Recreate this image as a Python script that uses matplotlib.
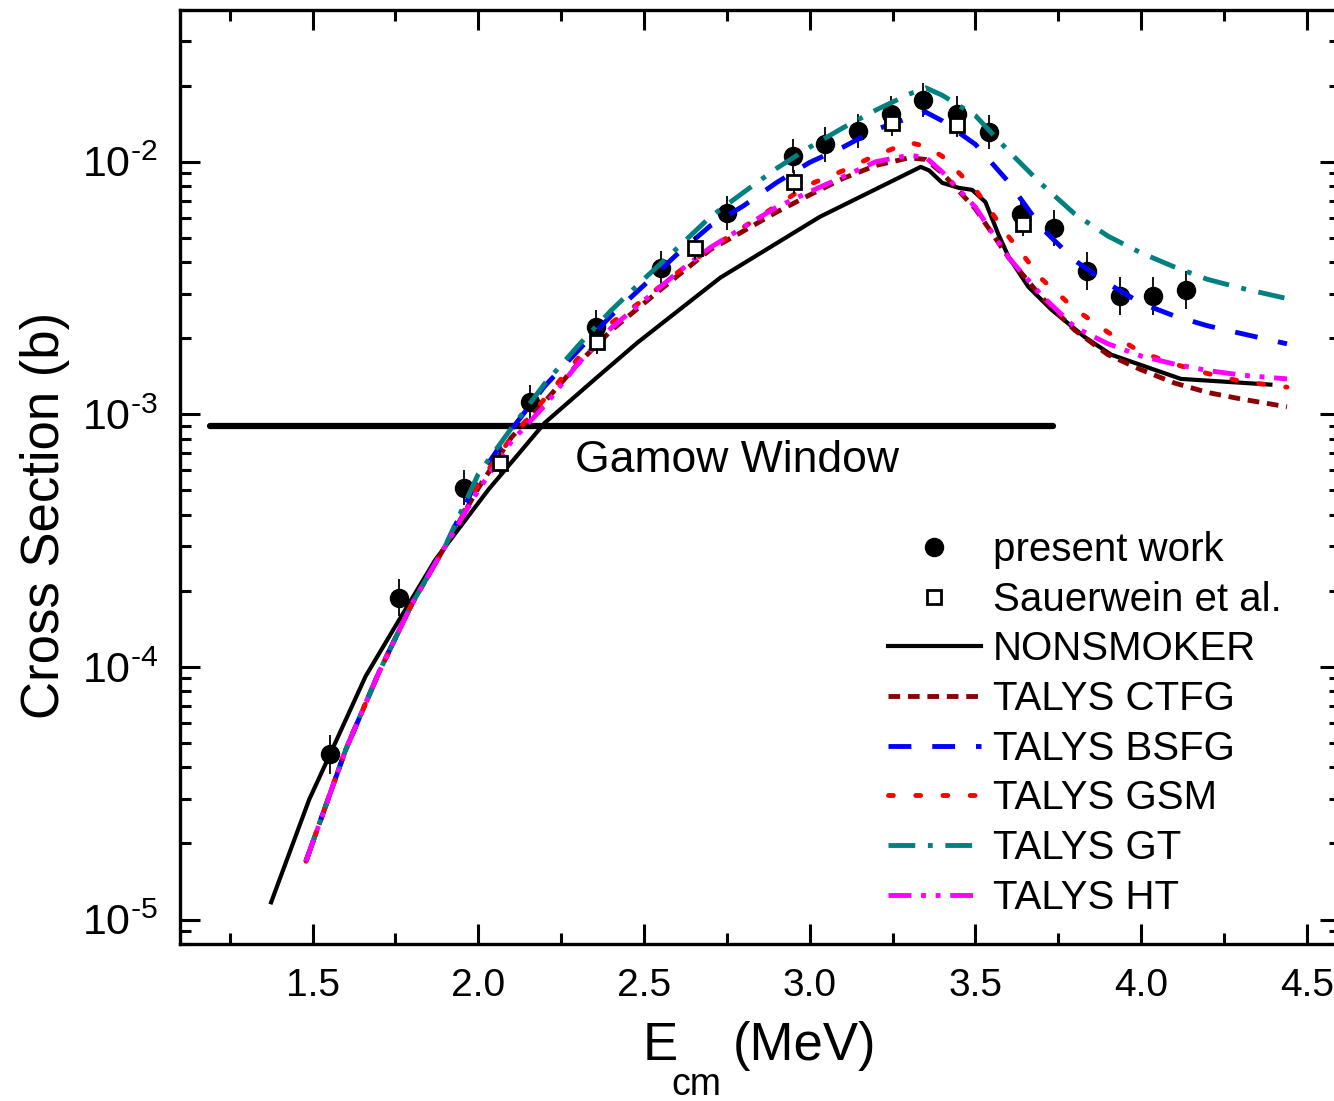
import matplotlib
matplotlib.use('Agg')
import matplotlib.pyplot as plt
from matplotlib.ticker import FixedLocator, LogLocator, NullFormatter

plt.rcParams['font.family'] = ['Liberation Sans', 'DejaVu Sans']
plt.rcParams['mathtext.fontset'] = 'custom'
plt.rcParams['mathtext.rm'] = 'Liberation Sans'
plt.rcParams['mathtext.it'] = 'Liberation Sans:italic'
plt.rcParams['mathtext.bf'] = 'Liberation Sans:bold'

# ---------------- data ----------------
present_E = [1.553, 1.761, 1.957, 2.156, 2.356, 2.552, 2.751, 2.950, 3.047, 3.146,
             3.246, 3.343, 3.445, 3.542, 3.638, 3.738, 3.838, 3.937, 4.037, 4.136]
present_xs = [4.5e-5, 1.88e-4, 5.12e-4, 1.12e-3, 2.21e-3, 3.79e-3, 6.27e-3, 1.055e-2, 1.17e-2, 1.32e-2,
              1.55e-2, 1.75e-2, 1.55e-2, 1.31e-2, 6.2e-3, 5.47e-3, 3.7e-3, 2.94e-3, 2.94e-3, 3.11e-3]
present_relerr = [0.19, 0.18, 0.17, 0.17, 0.17, 0.17, 0.17, 0.17, 0.17, 0.17,
                  0.17, 0.17, 0.17, 0.17, 0.18, 0.18, 0.19, 0.19, 0.19, 0.19]

sauer_E = [2.066, 2.359, 2.654, 2.952, 3.249, 3.445, 3.645]
sauer_xs = [6.43e-4, 1.94e-3, 4.55e-3, 8.3e-3, 1.42e-2, 1.40e-2, 5.66e-3]
sauer_relerr = [0.12, 0.12, 0.12, 0.12, 0.12, 0.12, 0.12]

nonsmoker_E = [1.375, 1.49, 1.55, 1.66, 1.75, 1.87, 2.03, 2.20, 2.35, 2.48, 2.73, 3.03,
               3.335, 3.36, 3.40, 3.45, 3.49, 3.53, 3.57, 3.60, 3.66, 3.73, 3.83, 3.91, 4.12, 4.39]
nonsmoker_xs = [1.17e-5, 2.99e-5, 4.43e-5, 9.18e-5, 1.45e-4, 2.65e-4, 5.02e-4, 9.23e-4, 1.37e-3,
                1.92e-3, 3.47e-3, 6.04e-3, 9.53e-3, 9.23e-3, 8.24e-3, 7.87e-3, 7.73e-3, 6.92e-3,
                5.13e-3, 4.2e-3, 3.19e-3, 2.59e-3, 2.02e-3, 1.72e-3, 1.38e-3, 1.31e-3]

talys_E = [1.48, 1.6, 1.7, 1.8, 1.9, 2.0, 2.1, 2.2, 2.3, 2.4, 2.5, 2.6, 2.7, 2.8, 2.9, 3.0,
           3.1, 3.2, 3.3, 3.35, 3.4, 3.5, 3.6, 3.7, 3.8, 3.9, 4.0, 4.1, 4.2, 4.3, 4.44]
talys_ctfg = [1.7e-5, 4.7e-5, 9.5e-5, 1.78e-4, 3.0e-4, 5.1e-4, 8.1e-4, 1.12e-3, 1.58e-3, 2.14e-3,
              2.75e-3, 3.52e-3, 4.48e-3, 5.31e-3, 6.31e-3, 7.38e-3, 8.57e-3, 9.66e-3, 1.035e-2,
              1.02e-2, 9.0e-3, 6.5e-3, 4.17e-3, 2.9e-3, 2.15e-3, 1.72e-3, 1.5e-3, 1.33e-3,
              1.22e-3, 1.15e-3, 1.07e-3]
talys_bsfg = [1.7e-5, 4.7e-5, 9.5e-5, 1.78e-4, 3.0e-4, 5.6e-4, 8.7e-4, 1.29e-3, 1.78e-3, 2.45e-3,
              3.24e-3, 4.3e-3, 5.57e-3, 6.68e-3, 8.26e-3, 9.93e-3, 1.14e-2, 1.34e-2, 1.49e-2,
              1.57e-2, 1.45e-2, 1.17e-2, 8.3e-3, 5.46e-3, 4.06e-3, 3.29e-3, 2.75e-3, 2.45e-3,
              2.24e-3, 2.09e-3, 1.9e-3]
talys_gsm = [1.7e-5, 4.7e-5, 9.5e-5, 1.78e-4, 3.0e-4, 5.3e-4, 8.1e-4, 1.15e-3, 1.66e-3, 2.29e-3,
             2.85e-3, 3.63e-3, 4.53e-3, 5.5e-3, 6.7e-3, 8.13e-3, 9.2e-3, 1.06e-2, 1.19e-2,
             1.15e-2, 1.05e-2, 7.76e-3, 5.05e-3, 3.43e-3, 2.61e-3, 2.11e-3, 1.76e-3, 1.58e-3,
             1.45e-3, 1.35e-3, 1.28e-3]
talys_gt = [1.7e-5, 4.7e-5, 9.5e-5, 1.78e-4, 3.0e-4, 5.8e-4, 8.8e-4, 1.32e-3, 1.86e-3, 2.57e-3,
            3.43e-3, 4.54e-3, 6.04e-3, 7.55e-3, 9.4e-3, 1.14e-2, 1.36e-2, 1.6e-2, 1.85e-2,
            1.96e-2, 1.83e-2, 1.52e-2, 1.1e-2, 8.13e-3, 6.2e-3, 5.07e-3, 4.35e-3, 3.83e-3,
            3.42e-3, 3.16e-3, 2.87e-3]
talys_ht = [1.7e-5, 4.7e-5, 9.5e-5, 1.78e-4, 3.0e-4, 5.0e-4, 7.8e-4, 1.08e-3, 1.58e-3, 2.19e-3,
            2.82e-3, 3.63e-3, 4.57e-3, 5.5e-3, 6.6e-3, 7.6e-3, 8.7e-3, 1.0e-2, 1.06e-2,
            1.04e-2, 9.1e-3, 6.6e-3, 4.17e-3, 2.95e-3, 2.21e-3, 1.9e-3, 1.7e-3, 1.58e-3,
            1.49e-3, 1.43e-3, 1.38e-3]

gamow_E = [1.19, 3.735]
gamow_xs = [9.0e-4, 9.0e-4]
gamow_text_E = 2.78
gamow_text_xs = 6.55e-4

x_ticks = [1.5, 2.0, 2.5, 3.0, 3.5, 4.0, 4.5]
x_ticklabels = ['1.5', '2.0', '2.5', '3.0', '3.5', '4.0', '4.5']
x_minor = [1.25, 1.75, 2.25, 2.75, 3.25, 3.75, 4.25]
y_ticks = [1e-5, 1e-4, 1e-3, 1e-2]
y_ticklabels = [r'$\mathregular{10^{\text{-}5}}$', r'$\mathregular{10^{\text{-}4}}$',
                r'$\mathregular{10^{\text{-}3}}$', r'$\mathregular{10^{\text{-}2}}$']

# ---------------- figure ----------------
W, H = 1334, 1101
fig = plt.figure(figsize=(W / 100, H / 100), dpi=100)
L, R, T, B = 180, 1340, 9.5, 944
ax = fig.add_axes([L / W, 1 - B / H, (R - L) / W, (B - T) / H])
ax.set_yscale('log')
ax.set_xlim(1.1, 4.6)
ax.set_ylim(8.0e-6, 4.0e-2)

# Gamow window line
ax.plot(gamow_E, gamow_xs, color='black', lw=4.5, solid_capstyle='round', zorder=2)
ax.text(gamow_text_E, gamow_text_xs, 'Gamow Window', fontsize=32, ha='center', va='center')

# present work
lo = [v * (1 - 1 / (1 + e)) for v, e in zip(present_xs, present_relerr)]
hi = [v * e for v, e in zip(present_xs, present_relerr)]
ax.errorbar(present_E, present_xs, yerr=[lo, hi], fmt='none', ecolor='black', elinewidth=1.3,
            capsize=0, zorder=3)
ax.plot(present_E, present_xs, 'o', color='black', markersize=13, linestyle='none',
        label='present work', zorder=3)

# curves
lw = 3.5
ax.plot(nonsmoker_E, nonsmoker_xs, color='black', lw=3.0, label='NONSMOKER', zorder=4)
ax.plot(talys_E, talys_ctfg, color='#8B0000', lw=lw, dashes=(2.4, 1.6), label='TALYS CTFG', zorder=4)
ax.plot(talys_E, talys_bsfg, color='#0000FF', lw=lw, dashes=(4.7, 4.3), label='TALYS BSFG', zorder=4)
ax.plot(talys_E, talys_gsm, color='#FF0000', lw=lw, dashes=(1.0, 4.6), dash_capstyle='round',
        label='TALYS GSM', zorder=4)
ax.plot(talys_E, talys_gt, color='#008080', lw=lw, dashes=(5.5, 2.6, 1.0, 2.6), label='TALYS GT', zorder=4)
ax.plot(talys_E, talys_ht, color='#FF00FF', lw=lw, dashes=(4.7, 2.0, 1.0, 2.0, 1.0, 2.0),
        label='TALYS HT', zorder=4)

# Sauerwein et al.
slo = [v * (1 - 1 / (1 + e)) for v, e in zip(sauer_xs, sauer_relerr)]
shi = [v * e for v, e in zip(sauer_xs, sauer_relerr)]
ax.errorbar(sauer_E, sauer_xs, yerr=[slo, shi], fmt='none', ecolor='black', elinewidth=1.3,
            capsize=0, zorder=5)
ax.plot(sauer_E, sauer_xs, 's', markerfacecolor='white', markeredgecolor='black',
        markeredgewidth=2.0, markersize=10, linestyle='none', label='Sauerwein et al.', zorder=5)

# axes styling
ax.xaxis.set_major_locator(FixedLocator(x_ticks))
ax.set_xticklabels(x_ticklabels)
ax.xaxis.set_minor_locator(FixedLocator(x_minor))
ax.yaxis.set_major_locator(FixedLocator(y_ticks))
ax.set_yticklabels(y_ticklabels)
ax.yaxis.set_minor_locator(LogLocator(base=10, subs=[2, 3, 4, 5, 6, 7, 8, 9], numticks=20))
ax.yaxis.set_minor_formatter(NullFormatter())
ax.tick_params(which='both', direction='in', top=True, right=True, width=2.2)
ax.tick_params(which='major', length=14.5)
ax.tick_params(axis='x', which='major', pad=17, labelsize=28)
ax.tick_params(axis='y', which='major', pad=16, labelsize=31)
ax.tick_params(which='minor', length=8)
for sp in ax.spines.values():
    sp.set_linewidth(2.4)

# axis titles
fig.text(59 / W, 1 - 515 / H, 'Cross Section (b)', fontsize=38, rotation=90,
         rotation_mode='anchor', ha='center', va='baseline')
fig.text(643 / W, 1 - 1060 / H, 'E', fontsize=38, ha='left', va='baseline')
fig.text(671 / W, 1 - 1095 / H, 'cm', fontsize=27, ha='left', va='baseline')
fig.text(733 / W, 1 - 1060 / H, '(MeV)', fontsize=38, ha='left', va='baseline')

# legend
handles, labels = ax.get_legend_handles_labels()
order = ['present work', 'Sauerwein et al.', 'NONSMOKER', 'TALYS CTFG', 'TALYS BSFG',
         'TALYS GSM', 'TALYS GT', 'TALYS HT']
hmap = dict(zip(labels, handles))
ax.legend([hmap[k] for k in order], order, loc='upper left',
          bbox_to_anchor=((888 - L) / (R - L), (B - 531) / (B - T)),
          frameon=False, fontsize=29, handlelength=2.3, handletextpad=0.3,
          labelspacing=0.29, borderpad=0, borderaxespad=0, markerscale=1.0)

fig.savefig('out.png', dpi=100)
